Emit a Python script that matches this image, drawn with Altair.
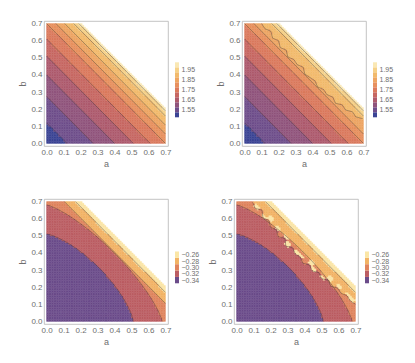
import numpy as np
import pandas as pd
import altair as alt

# ---------------- data ----------------
TICKS = [0.0, 0.1, 0.2, 0.3, 0.4, 0.5, 0.6, 0.7]
EDGE_S = 0.905          # region boundary a+b
STEP = 0.01             # plot-point cell size

# top panels: contours are lines a+b = const
TOP_LEVELS = [1.50, 1.55, 1.60, 1.65, 1.70, 1.75, 1.80, 1.85, 1.90, 1.95, 2.00]
TOP_COLORS = ["#3b4495", "#6f4e8b", "#90547c", "#ae5b6d", "#c76762", "#db7a5d",
              "#e8905e", "#eea562", "#f2ba6c", "#f6d188", "#fae8b4"]
TOP_CONTOURS = [0.12, 0.275, 0.40, 0.51, 0.61, 0.70, 0.755, 0.807, 0.86, 0.89]
TOP_LABELS = [1.55, 1.65, 1.75, 1.85, 1.95]

# top-right: noisy contour (replaces contour index 7), given as a+b along t=a-b
TR_JAG_INDEX = 7
TR_JAG_T = [-0.60, -0.55, -0.50, -0.45, -0.40, -0.35, -0.30, -0.25, -0.20, -0.15,
            -0.10, -0.05, 0.00, 0.05, 0.10, 0.15, 0.20, 0.25, 0.30, 0.35,
            0.40, 0.45, 0.50, 0.55]
TR_JAG_S = [0.80, 0.79, 0.81, 0.78, 0.80, 0.77, 0.79, 0.76, 0.78, 0.77,
            0.79, 0.76, 0.77, 0.78, 0.76, 0.78, 0.77, 0.79, 0.77, 0.80,
            0.79, 0.82, 0.81, 0.84]

# bottom panels: contours (a^p + b^p)^(1/p) = r
BOT_LEVELS = [-0.34, -0.32, -0.30, -0.28, -0.26]
BOT_COLORS = ["#6b4c8a", "#bb5d63", "#e0845d", "#f2b365", "#fbe6a6"]
BOT_CONTOUR_R = [0.51, 0.68, 0.805, 0.87]
BOT_CONTOUR_P = [1.4, 1.3, 1.0, 1.0]

# bottom-right: noisy contour (replaces contour index 2) plus pale islands
BR_JAG_INDEX = 2
BR_JAG_T = [-0.60, -0.55, -0.50, -0.45, -0.40, -0.35, -0.30, -0.25, -0.20, -0.15,
            -0.10, -0.05, 0.00, 0.05, 0.10, 0.15, 0.20, 0.25, 0.30, 0.35,
            0.40, 0.45, 0.50, 0.55, 0.60]
BR_JAG_S = [0.79, 0.77, 0.80, 0.76, 0.78, 0.75, 0.77, 0.74, 0.77, 0.73,
            0.76, 0.74, 0.75, 0.73, 0.76, 0.74, 0.77, 0.75, 0.78, 0.76,
            0.79, 0.78, 0.80, 0.79, 0.80]
BR_ISLAND = [0.0, 0.03, 0.0, 0.02, 0.04, 0.0, 0.03, 0.0, 0.02, 0.04,
             0.0, 0.03, 0.02, 0.0, 0.04, 0.03, 0.0, 0.02, 0.04, 0.0,
             0.03, 0.0, 0.02, 0.03, 0.0]

# ---------------- layout / style ----------------
X_DOM = [-0.015, 0.715]
Y_DOM = [-0.015, 0.715]
PW, PH = 124, 125
TOP_LEG_DOM = [1.188, 2.438]
BOT_LEG_DOM = [-0.478, -0.085]
FONT = "Liberation Sans"
GREY = "#6e6e6e"


def jag_lookup(t, ts, vals):
    ts = np.asarray(ts)
    idx = np.abs(t[..., None] - ts[None, :]).argmin(axis=-1)
    return np.asarray(vals)[idx], idx


def grid():
    c = np.arange(0, 0.7 - 1e-9, STEP)
    A0, B0 = np.meshgrid(c, c)
    return A0.ravel(), B0.ravel()


def top_cells(jag=False):
    a0, b0 = grid()
    a, b = a0 + STEP / 2, b0 + STEP / 2
    s = a + b
    band = np.zeros_like(s, dtype=int)
    for i, c in enumerate(TOP_CONTOURS):
        if jag and i == TR_JAG_INDEX:
            thr, _ = jag_lookup(a - b, TR_JAG_T, TR_JAG_S)
        else:
            thr = c
        band += (s > thr).astype(int)
    band = np.clip(band, 0, len(TOP_COLORS) - 1)
    keep = s <= EDGE_S
    return pd.DataFrame({"a0": a0[keep], "b0": b0[keep],
                         "col": np.array(TOP_COLORS)[band[keep]]})


def bot_cells(jag=False):
    a0, b0 = grid()
    a, b = a0 + STEP / 2, b0 + STEP / 2
    s = a + b
    band = np.zeros_like(s, dtype=int)
    jag_s, jidx = jag_lookup(a - b, BR_JAG_T, BR_JAG_S)
    for i, (r, p) in enumerate(zip(BOT_CONTOUR_R, BOT_CONTOUR_P)):
        if jag and i == BR_JAG_INDEX:
            band += (s > jag_s).astype(int)
        else:
            g = (a ** p + b ** p) ** (1.0 / p)
            band += (g > r).astype(int)
    if jag:
        isl = np.asarray(BR_ISLAND)[jidx]
        band = np.where((s > jag_s) & (s <= jag_s + isl), len(BOT_COLORS) - 1, band)
    band = np.clip(band, 0, len(BOT_COLORS) - 1)
    keep = s <= EDGE_S
    return pd.DataFrame({"a0": a0[keep], "b0": b0[keep],
                         "col": np.array(BOT_COLORS)[band[keep]]})


def straight_line(cid, c):
    if c <= 0.7:
        pts = [(0.0, c), (c, 0.0)]
    else:
        pts = [(c - 0.7, 0.7), (0.7, c - 0.7)]
    return [{"cid": cid, "k": k, "a": p[0], "b": p[1]} for k, p in enumerate(pts)]


def jag_line(cid, ts, ss):
    rows = []
    for k, (t, s) in enumerate(zip(ts, ss)):
        a, b = (s + t) / 2, (s - t) / 2
        if 0 <= a <= 0.7 and 0 <= b <= 0.7:
            rows.append({"cid": cid, "k": k, "a": a, "b": b})
    return rows


def top_lines(jag=False):
    rows = []
    for i, c in enumerate(TOP_CONTOURS):
        if jag and i == TR_JAG_INDEX:
            rows += jag_line(i, TR_JAG_T, TR_JAG_S)
        else:
            rows += straight_line(i, c)
    return pd.DataFrame(rows)


def bot_lines(jag=False):
    rows = []
    th = np.linspace(0, np.pi / 2, 40)
    for i, (r, p) in enumerate(zip(BOT_CONTOUR_R, BOT_CONTOUR_P)):
        if jag and i == BR_JAG_INDEX:
            rows += jag_line(i, BR_JAG_T, BR_JAG_S)
        elif p == 1.0:
            rows += straight_line(i, r)
        else:
            a = r * np.cos(th) ** (2 / p)
            b = r * np.sin(th) ** (2 / p)
            rows += [{"cid": i, "k": k, "a": float(x), "b": float(y)}
                     for k, (x, y) in enumerate(zip(a, b))]
    return pd.DataFrame(rows)


def axes():
    common = dict(values=TICKS, format=".1f", labelFontSize=8, titleFontSize=9,
                  labelColor=GREY, titleColor=GREY, labelFont=FONT, titleFont=FONT,
                  titleFontWeight="normal", ticks=False, tickSize=0, domain=False,
                  grid=False, labelFlush=False, labelPadding=2)
    ax = alt.Axis(title="a", titlePadding=3, **common)
    ay = alt.Axis(title="b", titlePadding=3, **common)
    return ax, ay


def plot(cells, lines):
    ax, ay = axes()
    xs = alt.Scale(domain=X_DOM, nice=False, zero=False)
    ys = alt.Scale(domain=Y_DOM, nice=False, zero=False)
    rects = alt.Chart(cells).transform_calculate(
        a1=f"datum.a0 + {STEP}", b1=f"datum.b0 + {STEP}"
    ).mark_rect(strokeWidth=0.35).encode(
        x=alt.X("a0:Q", scale=xs, axis=ax),
        x2="a1:Q",
        y=alt.Y("b0:Q", scale=ys, axis=ay),
        y2="b1:Q",
        color=alt.Color("col:N", scale=None),
        stroke=alt.Stroke("col:N", scale=None),
    )
    ln = alt.Chart(lines).mark_line(color="#3a3030", strokeWidth=0.6, opacity=0.65).encode(
        x=alt.X("a:Q", scale=xs, axis=ax),
        y=alt.Y("b:Q", scale=ys, axis=ay),
        detail="cid:N",
        order="k:Q",
    )
    return alt.layer(rects, ln).properties(
        width=PW, height=PH, view=alt.ViewBackground(stroke="#b4b4b4", strokeWidth=0.8)
    )


def legend(levels, colors, labels, dom, step, fmt):
    df = pd.DataFrame({"lo": [v - step / 2 for v in levels],
                       "hi": [v + step / 2 for v in levels],
                       "col": colors})
    return alt.Chart(df).mark_rect().encode(
        y=alt.Y("lo:Q", scale=alt.Scale(domain=dom, nice=False, zero=False),
                axis=alt.Axis(orient="right", values=labels, format=fmt, title=None,
                              domain=False, ticks=False, tickSize=0, grid=False,
                              labelPadding=2, labelFontSize=7, labelColor=GREY,
                              labelFont=FONT, labelOverlap=False, labelFlush=False)),
        y2="hi:Q",
        color=alt.Color("col:N", scale=None),
    ).properties(width=4, height=PH, view=alt.ViewBackground(stroke=None))


top_leg = lambda: legend(TOP_LEVELS, TOP_COLORS, TOP_LABELS, TOP_LEG_DOM, 0.05, ".2f")
bot_leg = lambda: legend(BOT_LEVELS, BOT_COLORS, BOT_LEVELS, BOT_LEG_DOM, 0.02, ".2f")

tl = alt.hconcat(plot(top_cells(False), top_lines(False)), top_leg(), spacing=3)
tr = alt.hconcat(plot(top_cells(True), top_lines(True)), top_leg(), spacing=3)
bl = alt.hconcat(plot(bot_cells(False), bot_lines(False)), bot_leg(), spacing=3)
br = alt.hconcat(plot(bot_cells(True), bot_lines(True)), bot_leg(), spacing=3)

row1 = alt.hconcat(tl, tr, spacing=21)
row2 = alt.hconcat(bl, br, spacing=9)

chart = alt.vconcat(row1, row2, spacing=28).properties(
    padding={"left": 10, "top": 11, "right": 2, "bottom": 2}
)

chart.save("out.html", embed_options={"renderer": "svg", "actions": False})
